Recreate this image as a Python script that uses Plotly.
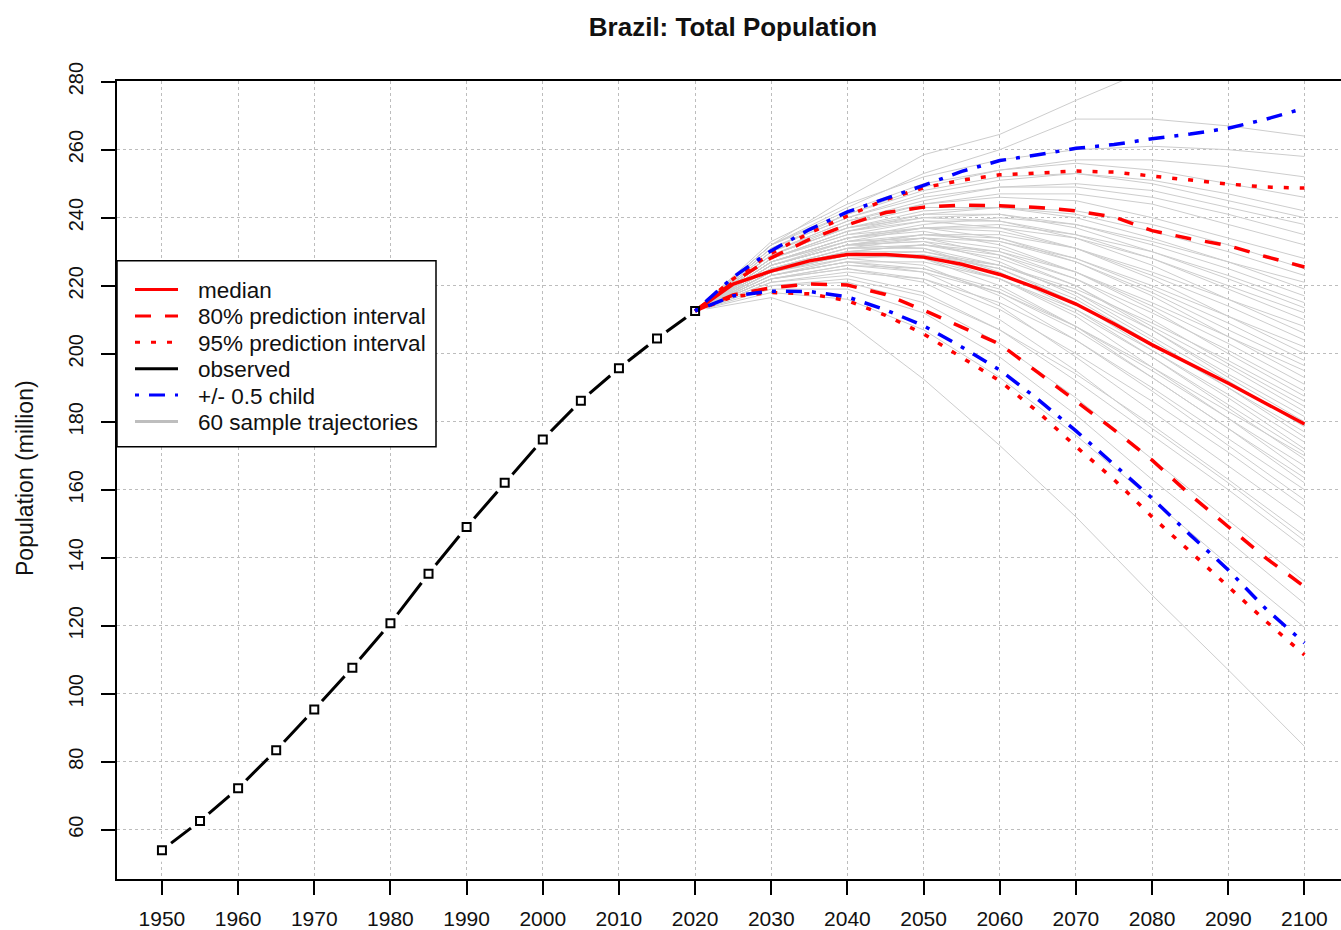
import plotly.graph_objects as go

# ---- data (million persons) ----
obs_years = [1950, 1955, 1960, 1965, 1970, 1975, 1980, 1985, 1990, 1995, 2000, 2005, 2010, 2015, 2020]
obs_pop = [53.98, 62.53, 72.18, 83.37, 95.33, 107.61, 120.69, 135.27, 149.00, 162.02,
           174.79, 186.13, 195.71, 204.47, 212.56]

proj_years = [2020, 2025, 2030, 2035, 2040, 2045, 2050, 2055, 2060, 2065, 2070, 2075, 2080,
              2085, 2090, 2095, 2100]
median = [212.56, 220.5, 224.3, 227.3, 229.2, 229.2, 228.4, 226.3, 223.3, 219.2, 214.6, 208.8,
          202.6, 197.0, 191.3, 185.3, 179.3]
pi80_low = [212.56, 217.3, 219.4, 220.5, 220.2, 217.4, 212.8, 207.9, 202.8, 194.5, 186.2, 177.6,
            168.7, 158.5, 149.1, 139.8, 131.5]
pi80_high = [212.56, 221.0, 228.2, 233.6, 237.9, 241.5, 243.1, 243.7, 243.5, 243.0, 242.0, 240.2,
             236.2, 233.8, 231.8, 228.5, 225.5]
pi95_low = [212.56, 216.8, 218.0, 217.6, 215.6, 211.3, 205.8, 199.0, 192.0, 182.9, 172.7, 163.0,
            152.0, 141.8, 131.5, 121.2, 111.4]
pi95_high = [212.56, 222.0, 229.5, 235.5, 240.5, 245.3, 248.8, 251.0, 252.6, 253.2, 253.7, 253.4,
             252.2, 251.0, 249.9, 249.0, 248.7]
child_low = [212.56, 217.0, 218.4, 218.3, 216.7, 212.9, 208.2, 202.0, 195.2, 186.6, 177.3, 167.4,
             157.5, 146.7, 136.4, 124.8, 114.9]
child_high = [212.56, 222.5, 230.3, 236.5, 241.7, 245.5, 249.5, 253.6, 256.8, 258.5, 260.4, 261.5,
              263.2, 264.6, 266.3, 269.0, 272.2]

sample_years = [2020, 2030, 2040, 2050, 2060, 2070, 2080, 2090, 2100]
sample_trajectories = [
    [212.56, 216.5, 209.5, 192.5, 173, 152, 129, 107, 84.5],
    [212.56, 218, 216, 207, 193, 176, 157, 138, 119.5],
    [212.56, 219, 219, 212, 199, 182, 163, 145, 126.5],
    [212.56, 220, 221, 215, 203, 187, 169, 151, 133],
    [212.56, 221, 223, 218, 207, 192, 176, 160, 143],
    [212.56, 222, 225, 221, 210, 195, 178, 162, 145],
    [212.56, 220, 222, 217, 207, 194, 179, 163, 146.5],
    [212.56, 223, 227, 224, 214, 199, 183, 167, 151],
    [212.56, 222, 225, 222, 213, 200, 186, 171, 155],
    [212.56, 224, 228, 226, 217, 204, 189, 173, 157],
    [212.56, 221, 224, 222, 215, 204, 190, 175, 160],
    [212.56, 225, 230, 228, 220, 208, 193, 178, 162],
    [212.56, 223, 227, 225, 218, 207, 193, 178, 163.5],
    [212.56, 224, 229, 229, 222, 211, 196, 181, 165],
    [212.56, 222, 226, 225, 219, 208, 195, 181, 167],
    [212.56, 226, 232, 231, 224, 213, 199, 184, 169],
    [212.56, 222, 226, 224, 218, 208, 196, 183, 170],
    [212.56, 224, 229, 228, 222, 212, 199, 185, 171],
    [212.56, 225, 230, 230, 225, 215, 201, 187, 172],
    [212.56, 223, 227, 227, 222, 213, 201, 188, 174],
    [212.56, 226, 232, 233, 227, 217, 204, 190, 175.5],
    [212.56, 224, 229, 229, 225, 216, 203, 190, 177],
    [212.56, 225, 231, 231, 226, 218, 205, 192, 178.5],
    [212.56, 227, 233, 234, 229, 220, 207, 193, 180],
    [212.56, 224, 229, 230, 226, 218, 207, 194, 181.5],
    [212.56, 225, 231, 232, 228, 220, 208, 196, 183],
    [212.56, 226, 232, 233, 230, 222, 210, 197, 184.5],
    [212.56, 223, 228, 229, 226, 219, 209, 198, 186],
    [212.56, 227, 234, 236, 232, 224, 213, 200, 187.5],
    [212.56, 225, 230, 232, 229, 222, 212, 201, 189],
    [212.56, 226, 232, 234, 231, 224, 214, 203, 191],
    [212.56, 228, 235, 237, 234, 227, 217, 205, 193],
    [212.56, 224, 230, 232, 230, 224, 215, 205, 195],
    [212.56, 227, 233, 235, 233, 227, 218, 207, 196.5],
    [212.56, 226, 232, 235, 234, 228, 219, 209, 198],
    [212.56, 228, 236, 239, 237, 231, 222, 211, 200],
    [212.56, 225, 231, 234, 233, 228, 220, 211, 202],
    [212.56, 227, 234, 237, 236, 231, 223, 214, 204],
    [212.56, 229, 237, 240, 239, 234, 226, 216, 206],
    [212.56, 226, 232, 235, 235, 231, 224, 216, 208],
    [212.56, 228, 235, 239, 239, 235, 228, 219, 210],
    [212.56, 227, 234, 237, 237, 234, 228, 220, 212],
    [212.56, 229, 237, 241, 241, 237, 230, 222, 213.5],
    [212.56, 226, 233, 237, 238, 235, 230, 223, 215],
    [212.56, 228, 236, 240, 241, 238, 232, 225, 217],
    [212.56, 230, 238, 243, 243, 240, 234, 227, 219],
    [212.56, 227, 234, 238, 240, 238, 233, 227, 221],
    [212.56, 229, 237, 242, 243, 241, 236, 230, 223],
    [212.56, 228, 236, 241, 243, 242, 238, 232, 225],
    [212.56, 230, 239, 244, 246, 245, 240, 234, 228],
    [212.56, 229, 238, 244, 247, 247, 244, 238, 232],
    [212.56, 231, 240, 246, 249, 249, 246, 241, 235],
    [212.56, 230, 239, 245, 249, 250, 248, 243, 238],
    [212.56, 232, 241, 248, 252, 253, 250, 245, 240],
    [212.56, 231, 240, 247, 251, 253, 251, 247, 242],
    [212.56, 232, 242, 250, 254, 256, 254, 250, 246],
    [212.56, 231, 241, 249, 254, 257, 257, 255, 252],
    [212.56, 233, 244, 252, 257, 260, 261, 260, 258],
    [212.56, 232, 243, 253, 260, 269, 269, 267, 264],
    [212.56, 232, 246, 258.5, 264.5, 274.5, 284, 292, 300],
]

x_ticks = list(range(1950, 2101, 10))
y_ticks = list(range(60, 281, 20))

# ---- geometry ----
W, H = 1341, 930
ML, MR, MT, MB = 117, 0, 81, 51
PW, PH = W - ML - MR, H - MT - MB
FONT = "Liberation Sans, Arial, sans-serif"

RED, BLUE, GREY = "#ff0000", "#0000ff", "#cdcdcd"
DASH80 = "16px,14px"
DOT95 = "5px,11px"
DOTDASH = "4px,10px,16px,10px"


def px_x(px):
    return (px - ML) / PW


def px_y(py):
    return (H - MB - py) / PH


fig = go.Figure()

for traj in sample_trajectories:
    fig.add_trace(go.Scatter(x=sample_years, y=traj, mode="lines",
                             line=dict(color=GREY, width=1), hoverinfo="skip"))

# observed series: line with gaps around the points
fig.add_trace(go.Scatter(x=obs_years, y=obs_pop, mode="lines",
                         line=dict(color="black", width=3)))
fig.add_trace(go.Scatter(x=obs_years, y=obs_pop, mode="markers",
                         marker=dict(symbol="circle", size=23, color="white",
                                     line=dict(width=0))))

fig.add_trace(go.Scatter(x=proj_years, y=pi95_low, mode="lines",
                         line=dict(color=RED, width=3.5, dash=DOT95)))
fig.add_trace(go.Scatter(x=proj_years, y=pi95_high, mode="lines",
                         line=dict(color=RED, width=3.5, dash=DOT95)))
fig.add_trace(go.Scatter(x=proj_years, y=pi80_low, mode="lines",
                         line=dict(color=RED, width=3.5, dash=DASH80)))
fig.add_trace(go.Scatter(x=proj_years, y=pi80_high, mode="lines",
                         line=dict(color=RED, width=3.5, dash=DASH80)))
fig.add_trace(go.Scatter(x=proj_years, y=median, mode="lines",
                         line=dict(color=RED, width=3.5)))
fig.add_trace(go.Scatter(x=proj_years, y=child_low, mode="lines",
                         line=dict(color=BLUE, width=3.5, dash=DOTDASH)))
fig.add_trace(go.Scatter(x=proj_years, y=child_high, mode="lines",
                         line=dict(color=BLUE, width=3.5, dash=DOTDASH)))

fig.add_trace(go.Scatter(x=obs_years, y=obs_pop, mode="markers",
                         marker=dict(symbol="square-open", size=8, color="black",
                                     line=dict(width=2, color="black"))))

# ---- legend box ----
shapes = [dict(type="rect", xref="paper", yref="paper", layer="above",
               x0=px_x(117), x1=px_x(436), y0=px_y(446.7), y1=px_y(260.7),
               line=dict(color="black", width=1.5), fillcolor="white")]
annotations = []
legend_rows = [
    ("median", RED, "solid", 3),
    ("80% prediction interval", RED, DASH80, 3),
    ("95% prediction interval", RED, DOT95, 3),
    ("observed", "black", "solid", 3),
    ("+/- 0.5 child", BLUE, DOTDASH, 3),
    ("60 sample trajectories", "#bebebe", "solid", 3),
]
for i, (label, col, dash, w) in enumerate(legend_rows):
    py = 289.5 + 26.4 * i
    shapes.append(dict(type="line", xref="paper", yref="paper", layer="above",
                       x0=px_x(135), x1=px_x(178), y0=px_y(py), y1=px_y(py),
                       line=dict(color=col, width=w, dash=dash)))
    annotations.append(dict(text=label, xref="paper", yref="paper",
                            x=px_x(196), y=px_y(py + 1), xanchor="left", yanchor="middle",
                            showarrow=False, font=dict(family=FONT, size=22.5, color="#111111")))

annotations.append(dict(text="Population (million)", textangle=-90, xref="paper", yref="paper",
                        x=px_x(25), y=px_y(478), xanchor="center", yanchor="middle",
                        showarrow=False, font=dict(family=FONT, size=23, color="#111111")))

axis_common = dict(showline=True, linecolor="black", linewidth=1.5, ticks="outside",
                   ticklen=14, tickwidth=1.5, tickcolor="black", showgrid=True,
                   gridcolor="#bdbdbd", gridwidth=1, griddash="dot", zeroline=False,
                   automargin=False)

fig.update_layout(
    width=W, height=H, template="none",
    margin=dict(l=ML, r=MR, t=MT, b=MB, pad=0),
    paper_bgcolor="white", plot_bgcolor="white",
    showlegend=False,
    title=dict(text="<b>Brazil: Total Population</b>", xref="container", yref="container",
               x=733 / W, y=1 - 27 / H, xanchor="center", yanchor="middle",
               font=dict(family=FONT, size=26, color="#111111")),
    xaxis=dict(range=[1944.1, 2104.8], tickvals=x_ticks, mirror=True,
               tickfont=dict(family=FONT, size=21, color="#111111"),
               ticklabelstandoff=6, **axis_common),
    yaxis=dict(range=[45.5, 280.2], tickvals=y_ticks, tickangle=-90,
               tickfont=dict(family=FONT, size=20, color="#111111"),
               ticklabelstandoff=10, **axis_common),
    shapes=shapes,
    annotations=annotations,
)

fig.write_html("out.html")
